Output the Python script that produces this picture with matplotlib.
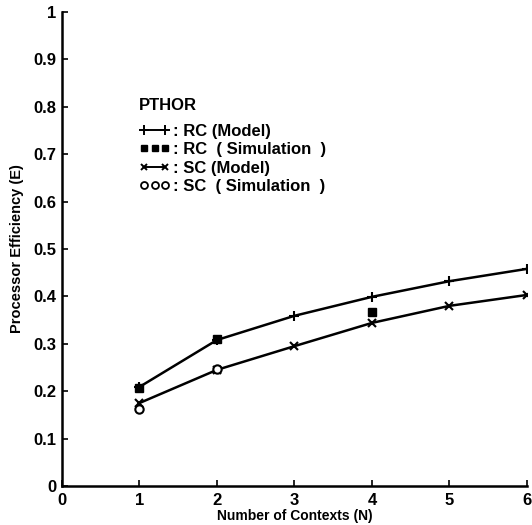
import matplotlib
matplotlib.use("Agg")
import matplotlib.pyplot as plt
from matplotlib.lines import Line2D
from matplotlib.legend_handler import HandlerLine2D

# Processor efficiency versus number of hardware contexts (PTHOR)
contexts = [1, 2, 3, 4, 5, 6]
rc_model = [0.209, 0.308, 0.359, 0.399, 0.432, 0.458]
sc_model = [0.175, 0.245, 0.295, 0.344, 0.380, 0.403]

rc_sim_n = [1, 2, 4]
rc_sim = [0.207, 0.310, 0.367]
sc_sim_n = [1, 2]
sc_sim = [0.162, 0.247]

x_ticks = [0, 1, 2, 3, 4, 5, 6]
y_ticks = [0, 0.1, 0.2, 0.3, 0.4, 0.5, 0.6, 0.7, 0.8, 0.9, 1]
y_tick_labels = ["0", "0.1", "0.2", "0.3", "0.4", "0.5", "0.6", "0.7", "0.8", "0.9", "1"]

plt.rcParams["font.family"] = ["Liberation Sans", "DejaVu Sans"]
plt.rcParams["font.weight"] = "bold"
plt.rcParams["xtick.direction"] = "in"
plt.rcParams["ytick.direction"] = "in"

fig = plt.figure(figsize=(5.32, 5.25), dpi=100)
ax = fig.add_axes([0.1165, 0.0743, 0.874, 0.903])

ax.plot(contexts, rc_model, color="black", lw=1.8, marker="+", ms=7, mew=1.5)
ax.plot(contexts, sc_model, color="black", lw=1.8, marker="x", ms=6, mew=1.5)
ax.plot(rc_sim_n, rc_sim, ls="none", marker="s", ms=6, color="black")
ax.plot(sc_sim_n, sc_sim, ls="none", marker="o", ms=6, mfc="white", mec="black", mew=1.5)

ax.set_xlim(0, 6)
ax.set_ylim(0, 1)
ax.set_xticks(x_ticks)
ax.set_yticks(y_ticks)
ax.set_yticklabels(y_tick_labels)
ax.tick_params(axis="both", direction="in", length=4, width=1.2, labelsize=12)
ax.tick_params(axis="x", pad=5)
ax.tick_params(axis="y", pad=4)
for lbl in ax.get_xticklabels() + ax.get_yticklabels():
    lbl.set_fontweight("bold")
for side in ("top", "right"):
    ax.spines[side].set_visible(False)
for side in ("left", "bottom"):
    ax.spines[side].set_linewidth(1.8)

ax.set_xlabel("Number of Contexts (N)", fontsize=10, fontweight="bold", labelpad=1)
ax.set_ylabel("Processor Efficiency (E)", fontsize=10.5, fontweight="bold", labelpad=7)

h_rc = Line2D([], [], color="black", lw=1.4, marker="+", ms=7, mew=1.4)
h_rcs = Line2D([], [], ls="none", color="black", marker="s", ms=5)
h_sc = Line2D([], [], color="black", lw=1.4, marker="x", ms=5, mew=1.4)
h_scs = Line2D([], [], ls="none", marker="o", ms=5, mfc="white", mec="black", mew=1.3)

leg = ax.legend(
    [h_rc, h_rcs, h_sc, h_scs],
    [": RC (Model)", ": RC  ( Simulation  )", ": SC (Model)", ": SC  ( Simulation  )"],
    handler_map={
        h_rc: HandlerLine2D(numpoints=2),
        h_rcs: HandlerLine2D(numpoints=3),
        h_sc: HandlerLine2D(numpoints=2),
        h_scs: HandlerLine2D(numpoints=3),
    },
    title="PTHOR",
    loc="upper left",
    bbox_to_anchor=(0.166, 0.819),
    frameon=False,
    fontsize=12,
    handlelength=1.85,
    handletextpad=0.2,
    labelspacing=0.2,
    borderaxespad=0,
    borderpad=0,
)
leg.get_title().set_fontweight("bold")
leg.get_title().set_fontsize(12)
leg._legend_box.align = "left"
leg._legend_box.sep = 8
for t in leg.get_texts():
    t.set_fontweight("bold")

fig.savefig("out.png", dpi=100)
